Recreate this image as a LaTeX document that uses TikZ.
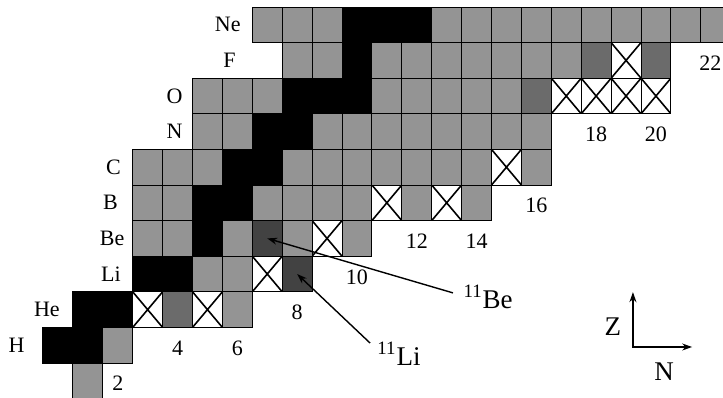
\documentclass[tikz,border=0pt]{standalone}
\usepackage{fontspec}
\setmainfont{Liberation Serif}
\usepackage{tikz}
\usetikzlibrary{arrows.meta}
\tikzset{
        cell/.style={draw, line width=0.5pt, minimum width=14.95pt, minimum height=17.8pt,
          inner sep=0pt, outer sep=0pt},
        lite/.style={fill=black!42},
        mid/.style={fill=black!58},
        dark/.style={fill=black!74},
        stab/.style={fill=black},
        unb/.style={fill=white, path picture={
          \draw[line width=0.8pt] (path picture bounding box.north west) -- (path picture bounding box.south east)
            (path picture bounding box.south west) -- (path picture bounding box.north east);}},
        elem/.style={anchor=east, inner sep=1pt, font=\fontsize{11}{13}\selectfont},
        nlab/.style={inner sep=0pt, font=\fontsize{11}{13}\selectfont},
        nuc/.style={anchor=base west, inner sep=0pt, font=\fontsize{13.5}{16}\selectfont},
        ptr/.style={line width=0.7pt, -{Stealth[length=5pt, width=3.5pt]}},
}

\begin{document}
\begin{tikzpicture}[x=14.95pt, y=17.8pt]
      \useasboundingbox (-1.438,0.045) rectangle (22.742,11.197);
      % ROWS OF NUCLIDES, Z = 0 ... 10
      \foreach \t [count=\n from 1] in {lite}
        \node[cell,\t] (c-\n-0) at (\n+.5,0.5) {};
      \foreach \t [count=\n from 0] in {stab,stab,lite}
        \node[cell,\t] (c-\n-1) at (\n+.5,1.5) {};
      \foreach \t [count=\n from 1] in {stab,stab,unb,mid,unb,lite}
        \node[cell,\t] (c-\n-2) at (\n+.5,2.5) {};
      \foreach \t [count=\n from 3] in {stab,stab,lite,lite,unb,dark}
        \node[cell,\t] (c-\n-3) at (\n+.5,3.5) {};
      \foreach \t [count=\n from 3] in {lite,lite,stab,lite,dark,lite,unb,lite}
        \node[cell,\t] (c-\n-4) at (\n+.5,4.5) {};
      \foreach \t [count=\n from 3] in {lite,lite,stab,stab,lite,lite,lite,lite,unb,lite,unb,lite}
        \node[cell,\t] (c-\n-5) at (\n+.5,5.5) {};
      \foreach \t [count=\n from 3] in {lite,lite,lite,stab,stab,lite,lite,lite,lite,lite,lite,lite,unb,lite}
        \node[cell,\t] (c-\n-6) at (\n+.5,6.5) {};
      \foreach \t [count=\n from 5] in {lite,lite,stab,stab,lite,lite,lite,lite,lite,lite,lite,lite}
        \node[cell,\t] (c-\n-7) at (\n+.5,7.5) {};
      \foreach \t [count=\n from 5] in {lite,lite,lite,stab,stab,stab,lite,lite,lite,lite,lite,mid,unb,unb,unb,unb}
        \node[cell,\t] (c-\n-8) at (\n+.5,8.5) {};
      \foreach \t [count=\n from 8] in {lite,lite,stab,lite,lite,lite,lite,lite,lite,lite,mid,unb,mid}
        \node[cell,\t] (c-\n-9) at (\n+.5,9.5) {};
      \foreach \t [count=\n from 7] in {lite,lite,lite,stab,stab,stab,lite,lite,lite,lite,lite,lite,lite,lite,lite,lite}
        \node[cell,\t] (c-\n-10) at (\n+.5,10.5) {};

      % ELEMENT NAMES
      \node[elem] (ne) at (6.69,10.5) {Ne};
      \node[elem] (f) at (6.52,9.5) {F};
      \node[elem] (o) at (4.75,8.5) {O};
      \node[elem] (n) at (4.75,7.5) {N};
      \node[elem] (c) at (2.68,6.5) {C};
      \node[elem] (b) at (2.58,5.5) {B};
      \node[elem] (be) at (2.8,4.5) {Be};
      \node[elem] (li) at (2.68,3.5) {Li};
      \node[elem] (he) at (0.64,2.5) {He};
      \node[elem] (h) at (-0.54,1.5) {H};

      % NEUTRON NUMBERS
      \foreach \n/\z in {2/0, 4/1, 6/1, 8/2, 10/3, 12/4, 14/4, 16/5, 18/7, 20/7}
        \node[nlab] (nn-\n) at (\n+.5,\z+.42) {\n};
      \node[nlab, anchor=east] (nn-22) at (22.7,9.42) {22};

      % HALO NUCLEI
      \node[nuc] (lbe) at (14.05,2.545) {\textsuperscript{11}Be};
      \node[nuc] (lli) at (11.17,0.94) {\textsuperscript{11}Li};
      \coordinate (pbe) at (13.71,2.97);
      \coordinate (pli) at (10.94,1.56);
      \draw[ptr] (pbe) -- (c-7-4.center);
      \draw[ptr] (pli) -- (c-8-3.center);

      % AXES
      \coordinate (ax) at (19.73,1.45);
      \coordinate (axz) at (19.73,2.99);
      \coordinate (axn) at (21.71,1.45);
      \draw[line width=0.7pt, {Stealth[length=5pt, width=3.5pt]}-{Stealth[length=5pt, width=3.5pt]}] (axz) -- (ax) -- (axn);
      \node[nuc, anchor=center] (zl) at (19.06,2.01) {Z};
      \node[nuc, anchor=center] (nl) at (20.77,0.75) {N};
\end{tikzpicture}
\end{document}
